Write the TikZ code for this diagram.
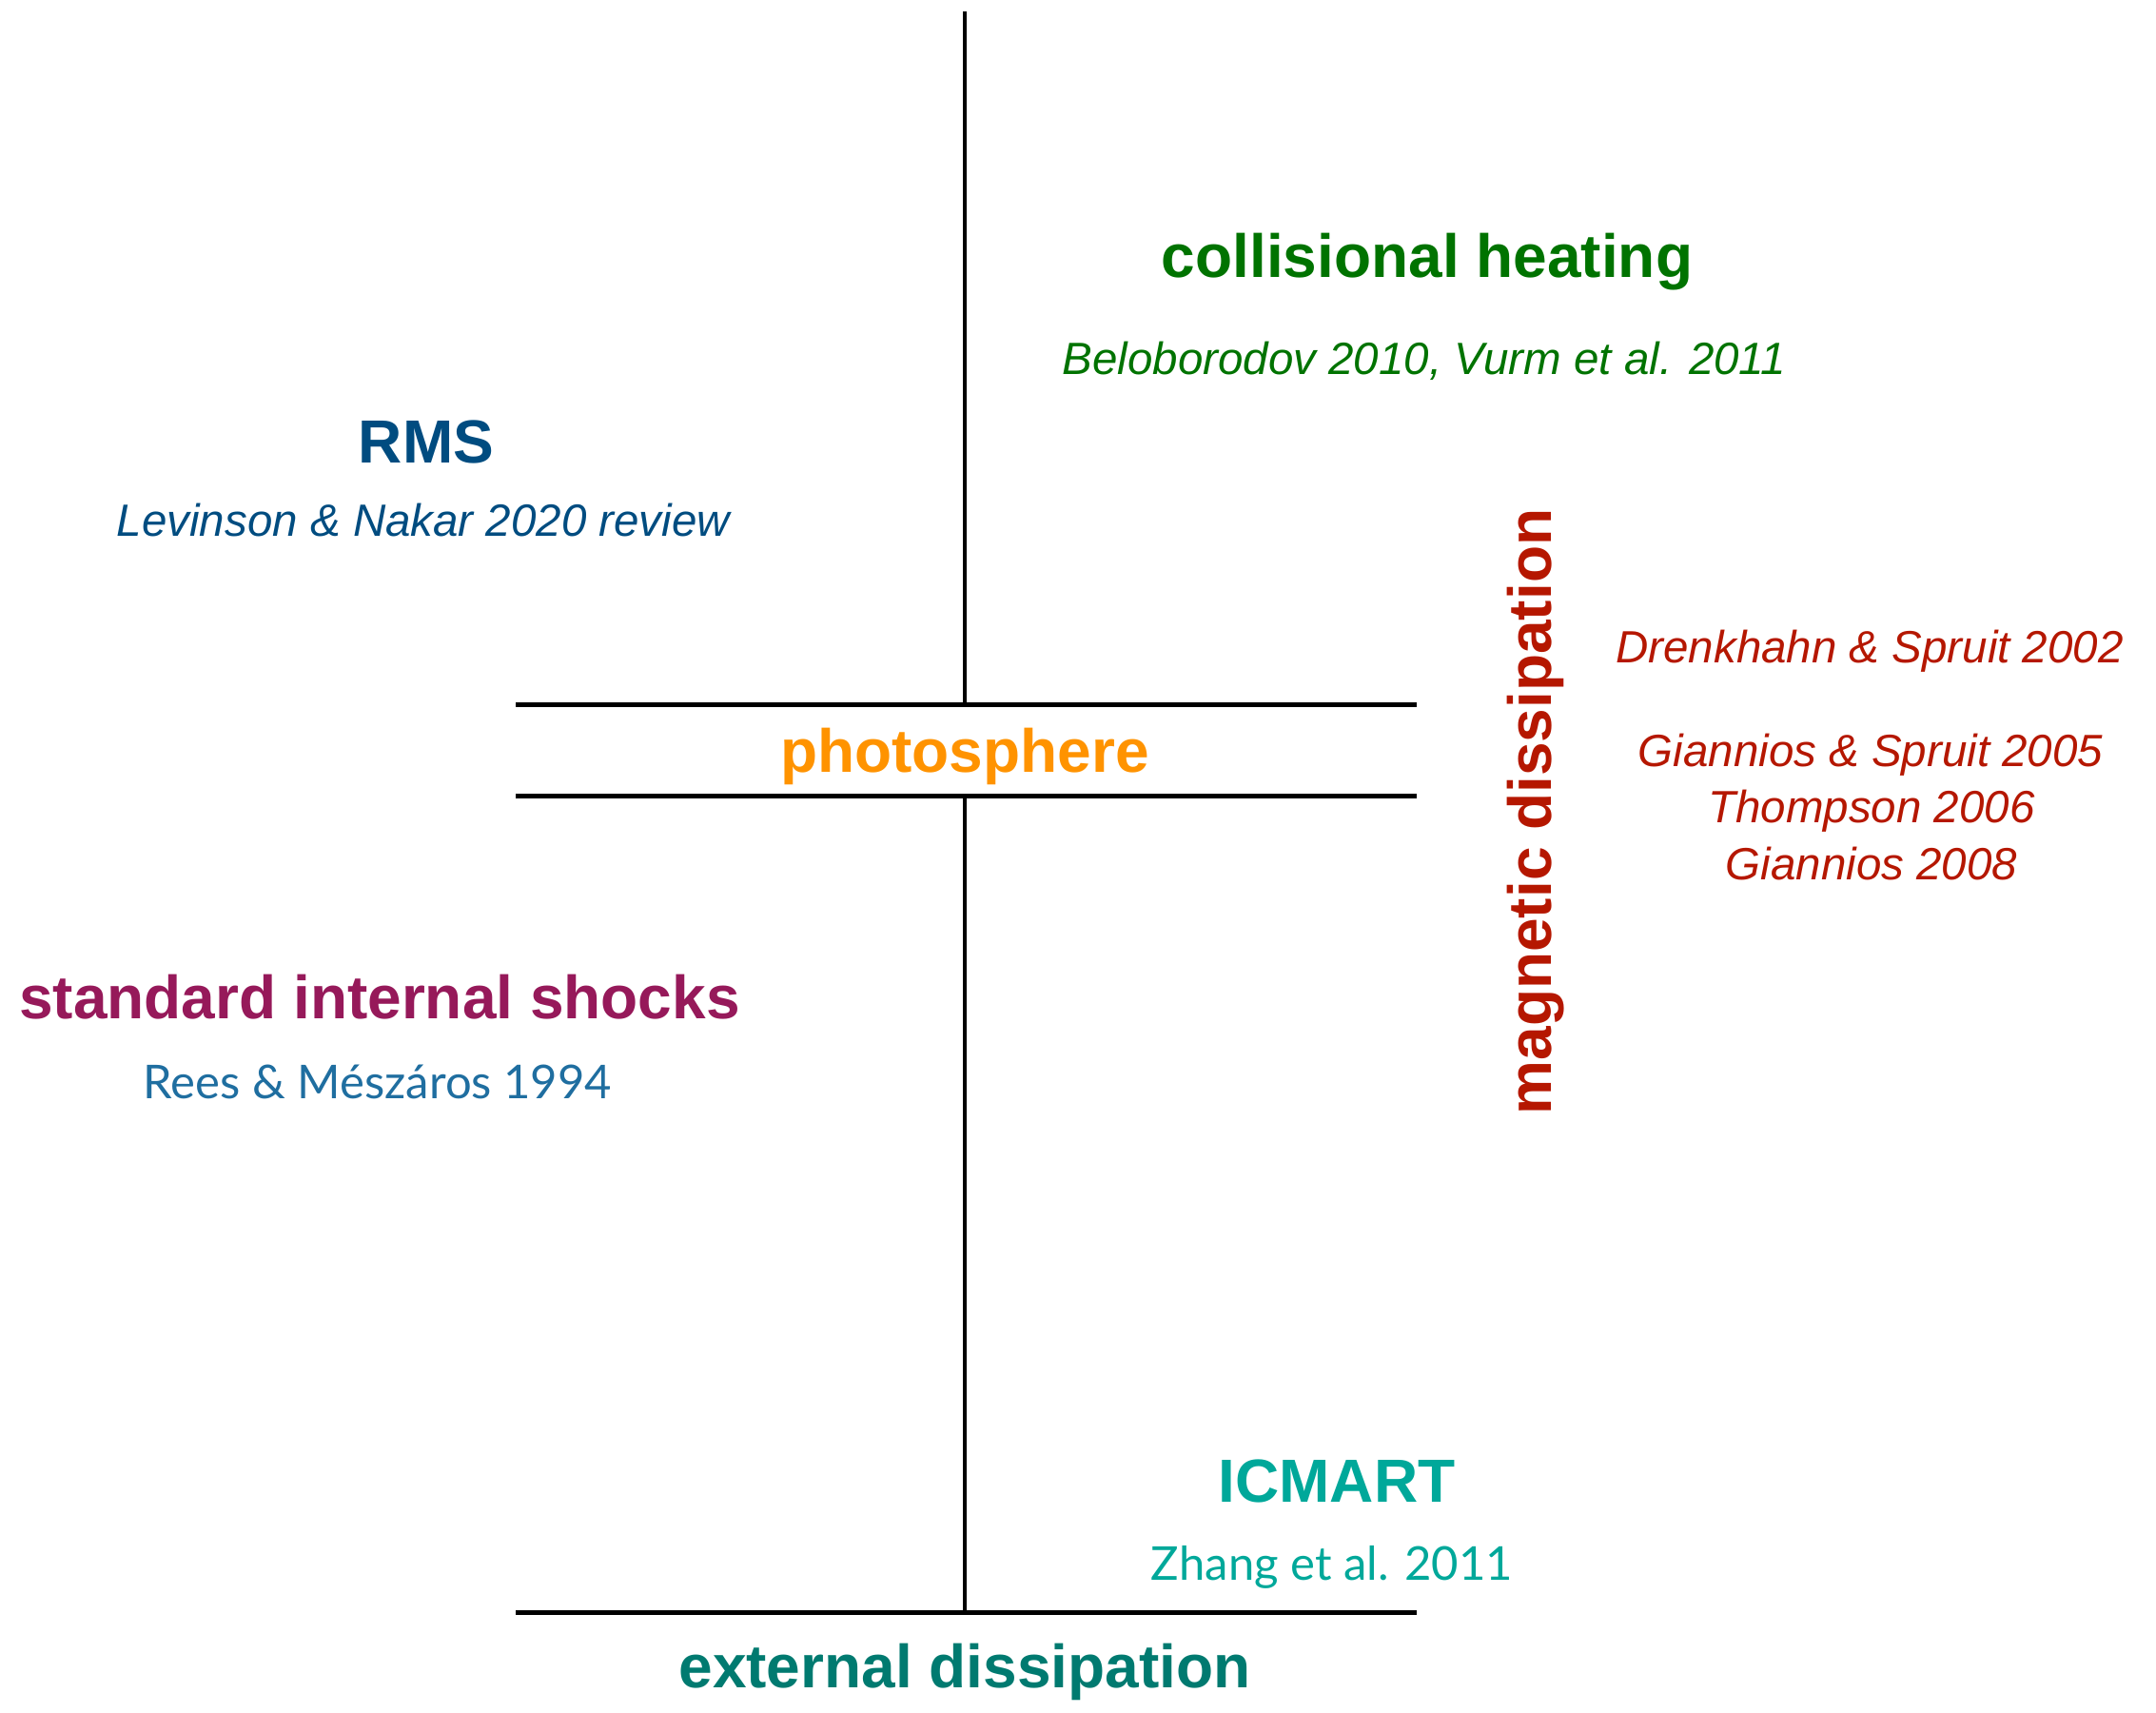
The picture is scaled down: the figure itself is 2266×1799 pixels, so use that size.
\documentclass[tikz,border=0pt]{standalone}
\usepackage{fontspec}
\setmainfont{Liberation Sans}
\newfontfamily\avfont{Lato}
\definecolor{chgreen}{RGB}{0,115,0}
\definecolor{rmsblue}{RGB}{0,76,128}
\definecolor{photoorange}{RGB}{255,147,0}
\definecolor{shockpurple}{RGB}{150,25,90}
\definecolor{reesblue}{RGB}{31,110,160}
\definecolor{magred}{RGB}{181,23,0}
\definecolor{icteal}{RGB}{0,168,154}
\definecolor{extteal}{RGB}{0,122,112}
\tikzset{
  headline/.style={font=\fontsize{64}{72}\selectfont\bfseries, inner sep=0pt},
  refline/.style={font=\fontsize{47.5}{54}\selectfont\itshape, inner sep=0pt},
  avline/.style={font=\fontsize{49}{56}\selectfont\avfont, inner sep=0pt},
  axis/.style={line width=3.3pt, black},
  level/.style={line width=5pt, black},
}
\begin{document}
\begin{tikzpicture}[x=1pt,y=-1pt]
\useasboundingbox (0,0) rectangle (2266,1799);

% axis end points and level lines
\coordinate (topend) at (1014,12);
\coordinate (photoup) at (1014,740);
\coordinate (photodown) at (1014,838);
\coordinate (extend) at (1014,1694);
\coordinate (pl1) at (542,740);
\coordinate (pr1) at (1489,740);
\coordinate (pl2) at (542,836);
\coordinate (pr2) at (1489,836);
\coordinate (el) at (542,1694);
\coordinate (er) at (1489,1694);

\draw[axis] (topend) -- (photoup);
\draw[axis] (photodown) -- (extend);
\draw[level] (pl1) -- (pr1);
\draw[level] (pl2) -- (pr2);
\draw[level] (el) -- (er);

% labels
\node[headline, text=chgreen] (coll) at (1500,275) {collisional heating};
\node[refline, text=chgreen] (collref) at (1497,379) {Beloborodov 2010, Vurm et al. 2011};

\node[headline, text=rmsblue] (rms) at (448,464) {RMS};
\node[refline, text=rmsblue] (rmsref) at (445,547) {Levinson \& Nakar 2020 review};

\node[headline, text=photoorange] (photo) at (1014,795) {photosphere};

\node[headline, text=shockpurple] (shocks) at (399,1048) {standard internal shocks};
\node[avline, text=reesblue] (shocksref) at (397,1137) {Rees \& Mészáros 1994};

\node[headline, text=magred, rotate=90] (mag) at (1614,853) {magnetic dissipation};
\node[refline, text=magred] (magref1) at (1965,684) {Drenkhahn \& Spruit 2002};
\node[refline, text=magred] (magref2) at (1966,793) {Giannios \& Spruit 2005};
\node[refline, text=magred] (magref3) at (1967,852) {Thompson 2006};
\node[refline, text=magred] (magref4) at (1967,908) {Giannios 2008};

\node[headline, text=icteal] (icmart) at (1405,1556) {ICMART};
\node[avline, text=icteal] (icmartref) at (1400,1647) {Zhang et al. 2011};

\node[headline, text=extteal] (ext) at (1014,1757) {external dissipation};
\end{tikzpicture}
\end{document}
